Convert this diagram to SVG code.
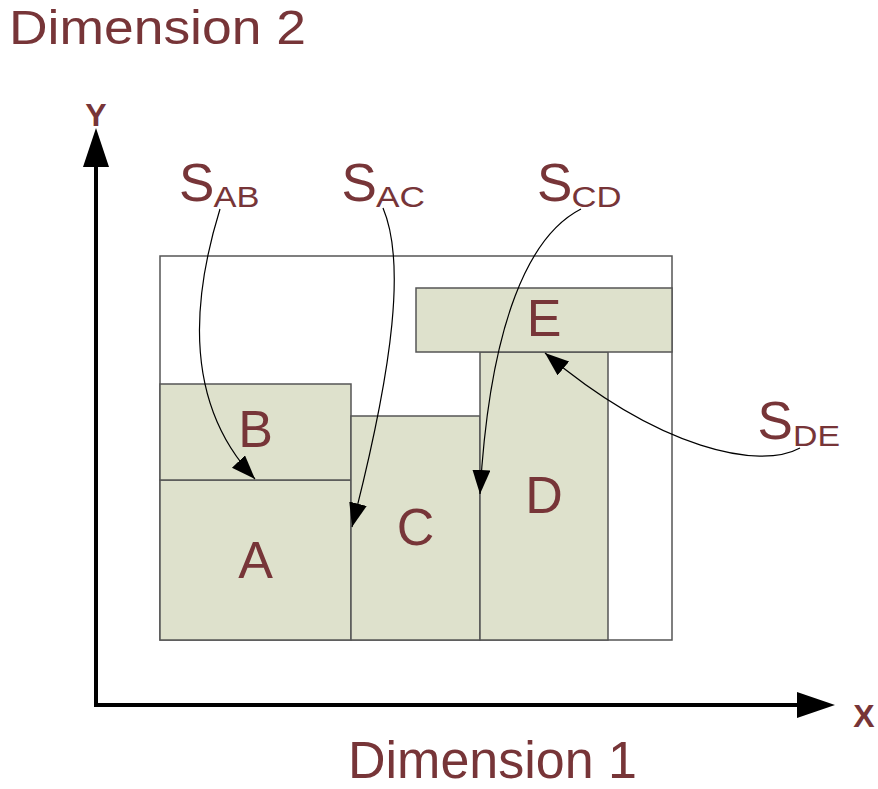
<svg xmlns="http://www.w3.org/2000/svg" width="878" height="789" viewBox="0 0 878 789">
<style>
.box{fill:#dee1cc;stroke:#555;stroke-width:1.5}
.frame{fill:#fff;stroke:#555;stroke-width:1.5}
.lbl{font-family:"Liberation Sans",Arial,sans-serif;fill:#773538}
.big{font-size:52px;text-anchor:middle}
.s{font-size:53px}
.sub{font-size:29px}
.axl{font-family:"Liberation Sans",Arial,sans-serif;font-weight:bold;font-size:32px;fill:#773538;text-anchor:middle}
.con{fill:none;stroke:#000;stroke-width:1.2}
</style>
<defs>
<marker id="ah" markerUnits="userSpaceOnUse" markerWidth="26" markerHeight="20" refX="24" refY="9" orient="auto" viewBox="0 0 26 20">
<path d="M0,0 L24,9 L0,18 z" fill="#000"/>
</marker>
</defs>
<rect width="878" height="789" fill="#fff"/>
<g id="axes">
<polyline points="96,167 96,705 797,705" fill="none" stroke="#000" stroke-width="4"/>
<polygon points="96,128 83,167 109,167" fill="#000"/>
<polygon points="835,705 797,692 797,718" fill="#000"/>
<text class="axl" x="96" y="126">Y</text>
<text class="axl" x="864" y="727">X</text>
</g>
<g id="container"><rect class="frame" x="160" y="256" width="512" height="384"/></g>
<g id="A"><rect class="box" x="160" y="480" width="191" height="160"/><text class="lbl big" x="255.5" y="578">A</text></g>
<g id="B"><rect class="box" x="160" y="384" width="191" height="96"/><text class="lbl big" x="255.5" y="447">B</text></g>
<g id="C"><rect class="box" x="351" y="416" width="129" height="224"/><text class="lbl big" x="415.5" y="545">C</text></g>
<g id="D"><rect class="box" x="480" y="352" width="128" height="288"/><text class="lbl big" x="544" y="513">D</text></g>
<g id="E"><rect class="box" x="416" y="288" width="256" height="64"/><text class="lbl big" x="544" y="336">E</text></g>
<g id="connectors">
<path class="con" d="M220,209 C195,290 180,400 255,479" marker-end="url(#ah)"/>
<path class="con" d="M383,208 C405,260 395,360 352,527" marker-end="url(#ah)"/>
<path class="con" d="M581,209 C530,235 490,320 480,494" marker-end="url(#ah)"/>
<path class="con" d="M800,448 C760,470 660,450 545,353" marker-end="url(#ah)"/>
</g>
<g id="S_AB"><text class="lbl s" x="179" y="201">S</text><text class="lbl sub" x="213.5" y="207" textLength="46" lengthAdjust="spacingAndGlyphs">AB</text></g>
<g id="S_AC"><text class="lbl s" x="341.6" y="201">S</text><text class="lbl sub" x="376" y="207" textLength="49" lengthAdjust="spacingAndGlyphs">AC</text></g>
<g id="S_CD"><text class="lbl s" x="537" y="201">S</text><text class="lbl sub" x="571.5" y="207" textLength="50" lengthAdjust="spacingAndGlyphs">CD</text></g>
<g id="S_DE"><text class="lbl s" x="757.6" y="439">S</text><text class="lbl sub" x="793" y="446" textLength="47" lengthAdjust="spacingAndGlyphs">DE</text></g>
<g id="titles">
<text class="lbl" x="9" y="44" font-size="48" textLength="297" lengthAdjust="spacingAndGlyphs">Dimension 2</text>
<text class="lbl" x="348" y="778" font-size="51" textLength="289" lengthAdjust="spacingAndGlyphs">Dimension 1</text>
</g>
</svg>
